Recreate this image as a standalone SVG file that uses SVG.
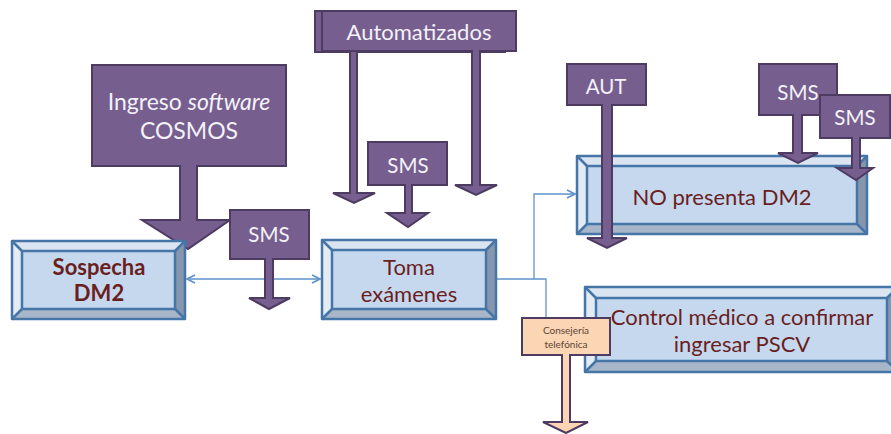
<svg xmlns="http://www.w3.org/2000/svg" width="891" height="434" viewBox="0 0 891 434">
<defs>
<style>
.co{fill:#765f8f;stroke:#4e3b62;stroke-width:2;stroke-linejoin:miter}
.cs{fill:#fcd5b4;stroke:#4e3b62;stroke-width:2}
.wt{font-family:Lato,"Open Sans",sans-serif;fill:#f4f1f8;text-anchor:middle}
.bt{font-family:Lato,"Open Sans",sans-serif;fill:#6a1f1f;text-anchor:middle}
.st{font-family:Lato,"Open Sans",sans-serif;fill:#5a4636;text-anchor:middle;font-size:10px}
.bo{stroke:#4675a8;stroke-width:2.5;stroke-linejoin:round}
.tp{fill:#dbe5f1}.lf{fill:#e3ebf5}.rt{fill:#8697ad}.bm{fill:#a7b6c9}.ce{fill:#c5d8ee}
.ln{fill:none;stroke:#5f93cc;stroke-width:1.3}
</style>
<marker id="ah" viewBox="0 0 10 10" refX="9" refY="5" markerWidth="10" markerHeight="10" markerUnits="userSpaceOnUse" orient="auto-start-reverse">
<polyline points="1,1 9,5 1,9" fill="none" stroke="#5f93cc" stroke-width="1.6"/>
</marker>
</defs>
<rect width="891" height="434" fill="#ffffff"/>

<g id="connectors">
<path class="ln" d="M187,279 H320" marker-start="url(#ah)" marker-end="url(#ah)"/>
<path class="ln" d="M496,279 H546 V318"/>
<path class="ln" d="M534,279 V194 H575" marker-end="url(#ah)"/>
</g>

<g id="ingreso">
<path class="co" d="M92,65 H286 V166 H197 V220 H230 L188,249 L142,220 H180 V166 H92 Z"/>
<text class="wt" x="189" y="110" font-size="23">Ingreso <tspan font-style="italic">software</tspan></text>
<text class="wt" x="189" y="139" font-size="23">COSMOS</text>
</g>

<g id="sospecha">
<rect class="ce" x="12" y="241" width="173" height="78"/>
<polygon class="tp" points="12,241 185,241 175,251 22,251"/>
<polygon class="lf" points="12,241 22,251 22,309 12,319"/>
<polygon class="rt" points="185,241 185,319 175,309 175,251"/>
<polygon class="bm" points="12,319 185,319 175,309 22,309"/>
<g class="bo" fill="none"><rect x="12" y="241" width="173" height="78"/><rect x="22" y="251" width="153" height="58"/><path d="M12,241 L22,251 M185,241 L175,251 M12,319 L22,309 M185,319 L175,309"/></g>
<text class="bt" x="99" y="275" font-size="22" font-weight="bold">Sospecha</text>
<text class="bt" x="99" y="301" font-size="22" font-weight="bold">DM2</text>
</g>

<g id="toma">
<rect class="ce" x="322" y="240" width="174" height="79"/>
<polygon class="tp" points="322,240 496,240 486,250 332,250"/>
<polygon class="lf" points="322,240 332,250 332,309 322,319"/>
<polygon class="rt" points="496,240 496,319 486,309 486,250"/>
<polygon class="bm" points="322,319 496,319 486,309 332,309"/>
<g class="bo" fill="none"><rect x="322" y="240" width="174" height="79"/><rect x="332" y="250" width="154" height="59"/><path d="M322,240 L332,250 M496,240 L486,250 M322,319 L332,309 M496,319 L486,309"/></g>
<text class="bt" x="409" y="275" font-size="22">Toma</text>
<text class="bt" x="409" y="302" font-size="22">exámenes</text>
</g>

<g id="nopresenta">
<rect class="ce" x="577" y="156" width="290" height="78"/>
<polygon class="tp" points="577,156 867,156 857,166 587,166"/>
<polygon class="lf" points="577,156 587,166 587,224 577,234"/>
<polygon class="rt" points="867,156 867,234 857,224 857,166"/>
<polygon class="bm" points="577,234 867,234 857,224 587,224"/>
<g class="bo" fill="none"><rect x="577" y="156" width="290" height="78"/><rect x="587" y="166" width="270" height="58"/><path d="M577,156 L587,166 M867,156 L857,166 M577,234 L587,224 M867,234 L857,224"/></g>
<text class="bt" x="722" y="205" font-size="22">NO presenta DM2</text>
</g>

<g id="control">
<rect class="ce" x="585" y="287" width="313" height="85"/>
<polygon class="tp" points="585,287 898,287 887,298 596,298"/>
<polygon class="lf" points="585,287 596,298 596,361 585,372"/>
<polygon class="rt" points="898,287 898,372 887,361 887,298"/>
<polygon class="bm" points="585,372 898,372 887,361 596,361"/>
<g class="bo" fill="none"><rect x="585" y="287" width="313" height="85"/><rect x="596" y="298" width="291" height="63"/><path d="M585,287 L596,298 M898,287 L887,298 M585,372 L596,361 M898,372 L887,361"/></g>
<text class="bt" x="742" y="325" font-size="22">Control médico a confirmar</text>
<text class="bt" x="742" y="352" font-size="22">ingresar PSCV</text>
</g>

<g id="sms1">
<path class="co" d="M230,210 H309 V259 H273 V298 H290 L269,309 L249,298 H265 V259 H230 Z"/>
<text class="wt" x="269" y="242" font-size="20.5">SMS</text>
</g>

<g id="automatizados">
<path class="co" d="M315,11 H505 V52 H357 V193 H375 L354,203 L333,193 H350 V52 H315 Z"/>
<path class="co" d="M322,11 H516 V51 H480 V185 H497 L476,195 L455,185 H472 V51 H322 Z"/>
<text class="wt" x="419" y="40" font-size="22">Automatizados</text>
</g>

<g id="sms2">
<path class="co" d="M368,142 H447 V185 H412 V213 H428 L408,227 L387,213 H405 V185 H368 Z"/>
<text class="wt" x="408" y="173" font-size="20.5">SMS</text>
</g>

<g id="aut">
<path class="co" d="M567,64 H646 V105 H612 V238 H627 L607,248 L587,238 H602 V105 H567 Z"/>
<text class="wt" x="606" y="94" font-size="20.5">AUT</text>
</g>

<g id="sms3">
<path class="co" d="M759,64 H837 V115 H802 V153 H818 L798,163 L778,153 H793 V115 H759 Z"/>
<text class="wt" x="798" y="100" font-size="20.5">SMS</text>
</g>

<g id="sms4">
<path class="co" d="M820,95 H890 V138 H860 V168 H873 L856,180 L837,168 H852 V138 H820 Z"/>
<text class="wt" x="855" y="125" font-size="20.5">SMS</text>
</g>

<g id="consejeria">
<path class="cs" d="M522,318 H610 V355 H570 V422 H588 L566,433 L543,422 H562 V355 H522 Z"/>
<text class="st" x="566" y="334">Consejería</text>
<text class="st" x="566" y="348">telefónica</text>
</g>
</svg>
